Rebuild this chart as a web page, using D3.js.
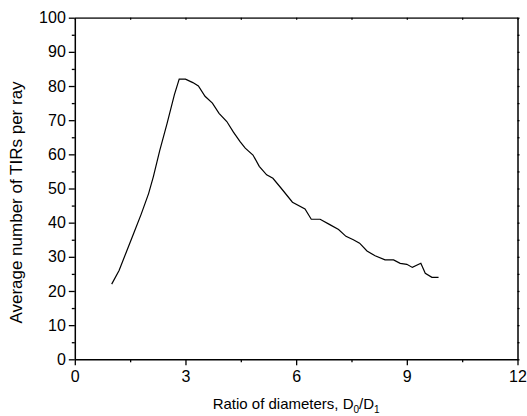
<!DOCTYPE html>
<html>
<head>
<meta charset="utf-8">
<script src="https://cdn.jsdelivr.net/npm/d3@7"></script>
<style>
  body { margin: 0; background: #fff; }
  svg { display: block; }
  text { font-family: "Liberation Sans", Arial, sans-serif; fill: #000; }
</style>
</head>
<body>
<script>
// ---- data ----
const ratioValues = [1.0, 1.2, 1.4, 1.6, 1.8, 2.0, 2.13, 2.3, 2.5, 2.7, 2.83, 3.0, 3.2, 3.35, 3.53, 3.73, 3.91, 4.12, 4.3, 4.48, 4.62, 4.83, 5.0, 5.2, 5.37, 5.6, 5.9, 6.24, 6.41, 6.65, 6.9, 7.15, 7.35, 7.55, 7.72, 7.92, 8.14, 8.41, 8.64, 8.82, 9.0, 9.15, 9.38, 9.5, 9.68, 9.86];
const tirValues   = [22, 26, 31.5, 37, 42.5, 48.5, 53.5, 61, 69, 77.5, 82, 82, 81, 80, 77, 75, 72, 69.6, 66.5, 63.7, 61.8, 59.8, 56.5, 54, 53, 50, 46, 44, 41, 41, 39.5, 38, 36, 35, 34, 31.7, 30.3, 29.1, 29.1, 28.1, 27.8, 26.9, 28.1, 25.2, 24, 24];
const xTickValues = [0, 3, 6, 9, 12];
const xMinorValues = [1.5, 4.5, 7.5, 10.5];
const yTickValues = [0, 10, 20, 30, 40, 50, 60, 70, 80, 90, 100];
const yMinorValues = [5, 15, 25, 35, 45, 55, 65, 75, 85, 95];
const yTitle = "Average number of TIRs per ray";

const W = 527, H = 416;
const svg = d3.select("body").append("svg").attr("width", W).attr("height", H);

const x = d3.scaleLinear().domain([0, 12]).range([74.8, 517.5]);
const y = d3.scaleLinear().domain([0, 100]).range([359.3, 17.7]);

// data line
const pts = ratioValues.map((r, i) => [r, tirValues[i]]);
svg.append("path")
  .datum(pts)
  .attr("fill", "none")
  .attr("stroke", "#000")
  .attr("stroke-width", 1.2)
  .attr("d", d3.line().x(d => x(d[0])).y(d => y(d[1])));

function styleAxis(g) {
  g.selectAll(".domain").attr("stroke", "#000").attr("stroke-width", 1.5);
  g.selectAll(".tick line").attr("stroke", "#000").attr("stroke-width", 1.3);
}

// bottom axis
const gx = svg.append("g").attr("transform", `translate(0,${y(0)})`)
  .call(d3.axisBottom(x).tickValues(xTickValues).tickSize(6).tickSizeOuter(0).tickPadding(5).tickFormat(d3.format("d")));
gx.selectAll("text").attr("font-size", 16).attr("font-family", "Liberation Sans, Arial, sans-serif");
styleAxis(gx);
svg.append("g").attr("transform", `translate(0,${y(0)})`)
  .call(d3.axisBottom(x).tickValues(xMinorValues).tickSize(3).tickFormat(""))
  .call(g => g.select(".domain").remove()).call(styleAxis);

// left axis
const gy = svg.append("g").attr("transform", `translate(${x(0)},0)`)
  .call(d3.axisLeft(y).tickValues(yTickValues).tickSize(6).tickSizeOuter(0).tickPadding(3).tickFormat(d3.format("d")));
gy.selectAll("text").attr("font-size", 16).attr("font-family", "Liberation Sans, Arial, sans-serif");
styleAxis(gy);
svg.append("g").attr("transform", `translate(${x(0)},0)`)
  .call(d3.axisLeft(y).tickValues(yMinorValues).tickSize(3).tickFormat(""))
  .call(g => g.select(".domain").remove()).call(styleAxis);

// top axis
const gt = svg.append("g").attr("transform", `translate(0,${y(100)})`)
  .call(d3.axisBottom(x).tickValues(xTickValues.concat(xMinorValues)).tickSize(2).tickSizeOuter(0).tickFormat(""));
styleAxis(gt);
gt.select(".domain").attr("stroke", "#444").attr("stroke-width", 1.8);

// right axis
const gr = svg.append("g").attr("transform", `translate(${x(12)},0)`)
  .call(d3.axisRight(y).tickValues(yTickValues.concat(yMinorValues)).tickSize(2).tickSizeOuter(0).tickFormat(""));
styleAxis(gr);

// x title
const xt = svg.append("text")
  .attr("x", x(6)).attr("y", 409)
  .attr("text-anchor", "middle").attr("font-size", 15);
xt.append("tspan").text("Ratio of diameters, D");
xt.append("tspan").attr("font-size", 10).attr("dy", 4).text("0");
xt.append("tspan").attr("dy", -4).text("/D");
xt.append("tspan").attr("font-size", 10).attr("dy", 4).text("1");

// y title
svg.append("text")
  .attr("transform", `translate(22,${(y(0) + y(100)) / 2 + 14}) rotate(-90)`)
  .attr("text-anchor", "middle").attr("font-size", 17)
  .text(yTitle);
</script>
</body>
</html>
